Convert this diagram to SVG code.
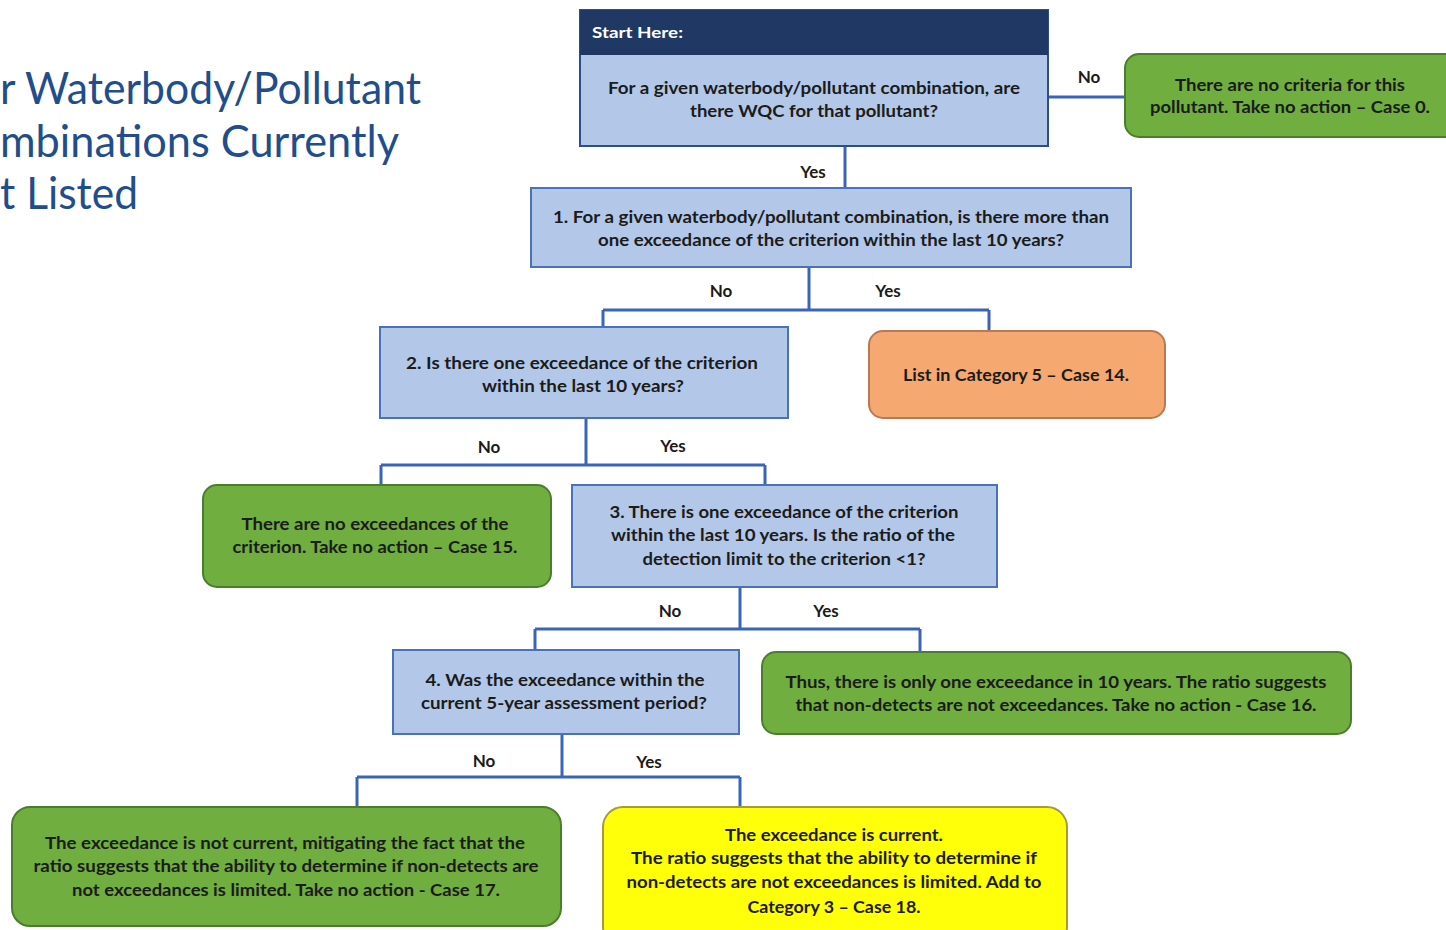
<svg xmlns="http://www.w3.org/2000/svg" width="1446" height="930" viewBox="0 0 1446 930">
<style>
.q{fill:#b3c8e8;stroke:#4a72b8;stroke-width:2}
.g{fill:#6fae3f;stroke:#4c7d2d;stroke-width:2}
.o{fill:#f5a870;stroke:#b87a55;stroke-width:2}
.y{fill:#ffff0a;stroke:#a89a3a;stroke-width:2}
.t{font-family:Lato,"Open Sans","Liberation Sans",sans-serif;font-weight:700;font-size:17px;fill:#1b1b1b;text-anchor:middle}
.l{font-family:Lato,"Open Sans","Liberation Sans",sans-serif;font-weight:700;font-size:17px;fill:#1b1b1b;text-anchor:middle}
.ttl{font-family:Lato,"Open Sans","Liberation Sans",sans-serif;font-size:44px;fill:#1f4e8a}
.c{fill:none;stroke:#3a64b8;stroke-width:3}
</style>
<rect width="1446" height="930" fill="#ffffff"/>
<g id="title">
<text class="ttl" x="0" y="104" textLength="421" lengthAdjust="spacingAndGlyphs">r Waterbody/Pollutant</text>
<text class="ttl" x="0" y="157" textLength="399" lengthAdjust="spacingAndGlyphs">mbinations Currently</text>
<text class="ttl" x="0" y="209" textLength="138" lengthAdjust="spacingAndGlyphs">t Listed</text>
</g>
<g id="connectors">
<path class="c" d="M1048 97 H1125"/>
<path class="c" d="M845 146 V188"/>
<path class="c" d="M809 267 V310 M603 310 H989 M603 310 V327 M989 310 V331"/>
<path class="c" d="M586 418 V465 M381 465 H765 M381 465 V485 M765 465 V485"/>
<path class="c" d="M740 587 V629 M535 629 H920 M535 629 V650 M920 629 V652"/>
<path class="c" d="M562 734 V777 M357 777 H740 M357 777 V807 M740 777 V807"/>
<text class="l" x="1089" y="83">No</text>
<text class="l" x="813" y="178">Yes</text>
<text class="l" x="721" y="297">No</text>
<text class="l" x="888" y="297">Yes</text>
<text class="l" x="489" y="453">No</text>
<text class="l" x="673" y="452">Yes</text>
<text class="l" x="670" y="617">No</text>
<text class="l" x="826" y="617">Yes</text>
<text class="l" x="484" y="767">No</text>
<text class="l" x="649" y="768">Yes</text>
</g>
<g id="start">
<rect x="580" y="10" width="468" height="136" fill="#b3c8e8" stroke="#2b4f8e" stroke-width="2"/>
<rect x="580" y="10" width="468" height="45" fill="#1f3864"/>
<text x="592" y="38" style="font-family:Lato,'Open Sans','Liberation Sans',sans-serif;font-weight:700;font-size:16px;fill:#ffffff" textLength="91" lengthAdjust="spacingAndGlyphs">Start Here:</text>
<text class="t" x="814" y="94" textLength="412" lengthAdjust="spacingAndGlyphs">For a given waterbody/pollutant combination, are</text>
<text class="t" x="814" y="117" textLength="248" lengthAdjust="spacingAndGlyphs">there WQC for that pollutant?</text>
</g>
<g id="case0">
<rect class="g" x="1125" y="54" width="335" height="83" rx="14"/>
<text class="t" x="1290" y="91" textLength="230" lengthAdjust="spacingAndGlyphs">There are no criteria for this</text>
<text class="t" x="1290" y="113" textLength="280" lengthAdjust="spacingAndGlyphs">pollutant. Take no action – Case 0.</text>
</g>
<g id="q1">
<rect class="q" x="531" y="188" width="600" height="79"/>
<text class="t" x="831" y="223" textLength="556" lengthAdjust="spacingAndGlyphs">1. For a given waterbody/pollutant combination, is there more than</text>
<text class="t" x="831" y="246" textLength="466" lengthAdjust="spacingAndGlyphs">one exceedance of the criterion within the last 10 years?</text>
</g>
<g id="q2">
<rect class="q" x="380" y="327" width="408" height="91"/>
<text class="t" x="582" y="369" textLength="352" lengthAdjust="spacingAndGlyphs">2.  Is there one exceedance of the criterion</text>
<text class="t" x="583" y="392" textLength="202" lengthAdjust="spacingAndGlyphs">within the last 10  years?</text>
</g>
<g id="case14">
<rect class="o" x="869" y="331" width="296" height="87" rx="14"/>
<text class="t" x="1016" y="381" textLength="226" lengthAdjust="spacingAndGlyphs">List in Category 5 – Case 14.</text>
</g>
<g id="case15">
<rect class="g" x="203" y="485" width="348" height="102" rx="14"/>
<text class="t" x="375" y="530" textLength="267" lengthAdjust="spacingAndGlyphs">There are no exceedances of the</text>
<text class="t" x="375" y="553" textLength="285" lengthAdjust="spacingAndGlyphs">criterion. Take no action – Case 15.</text>
</g>
<g id="q3">
<rect class="q" x="572" y="485" width="425" height="102"/>
<text class="t" x="784" y="518" textLength="349" lengthAdjust="spacingAndGlyphs">3. There is one exceedance of the criterion</text>
<text class="t" x="783" y="541" textLength="344" lengthAdjust="spacingAndGlyphs">within the last 10  years. Is the ratio of the</text>
<text class="t" x="784" y="565" textLength="283" lengthAdjust="spacingAndGlyphs">detection limit to the criterion &lt;1?</text>
</g>
<g id="q4">
<rect class="q" x="393" y="650" width="346" height="84"/>
<text class="t" x="565" y="686" textLength="279" lengthAdjust="spacingAndGlyphs">4. Was the exceedance within the</text>
<text class="t" x="564" y="709" textLength="286" lengthAdjust="spacingAndGlyphs">current 5-year assessment period?</text>
</g>
<g id="case16">
<rect class="g" x="762" y="652" width="589" height="82" rx="14"/>
<text class="t" x="1056" y="688" textLength="541" lengthAdjust="spacingAndGlyphs">Thus, there is only one exceedance in 10 years. The ratio suggests</text>
<text class="t" x="1056" y="711" textLength="521" lengthAdjust="spacingAndGlyphs">that non-detects are not exceedances. Take no action - Case 16.</text>
</g>
<g id="case17">
<rect class="g" x="12" y="807" width="549" height="119" rx="18"/>
<text class="t" x="285" y="849" textLength="480" lengthAdjust="spacingAndGlyphs">The exceedance is not current, mitigating the fact that the</text>
<text class="t" x="286" y="872" textLength="505" lengthAdjust="spacingAndGlyphs">ratio suggests that the ability to determine if non-detects are</text>
<text class="t" x="286" y="896" textLength="428" lengthAdjust="spacingAndGlyphs">not exceedances is limited. Take no action - Case 17.</text>
</g>
<g id="case18">
<rect class="y" x="603" y="807" width="464" height="140" rx="20"/>
<text class="t" x="834" y="841" textLength="218" lengthAdjust="spacingAndGlyphs">The exceedance is current.</text>
<text class="t" x="834" y="864" textLength="406" lengthAdjust="spacingAndGlyphs">The ratio suggests that the ability to determine if</text>
<text class="t" x="834" y="888" textLength="415" lengthAdjust="spacingAndGlyphs">non-detects are not exceedances is limited. Add to</text>
<text class="t" x="834" y="913" textLength="173" lengthAdjust="spacingAndGlyphs">Category 3 – Case 18.</text>
</g>
</svg>
